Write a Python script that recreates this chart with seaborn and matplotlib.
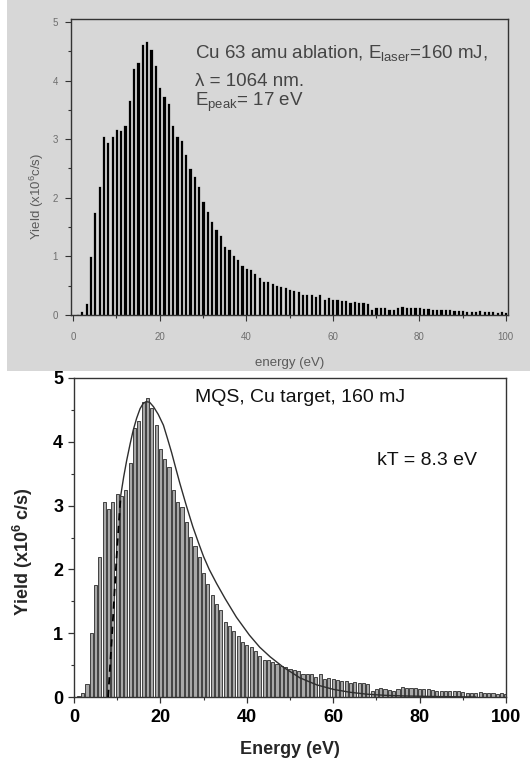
import matplotlib
matplotlib.use("Agg")
import matplotlib.pyplot as plt
from matplotlib.patches import Rectangle
from matplotlib.ticker import MultipleLocator
import seaborn as sns

# ion energy bins (eV) and measured yield (x10^6 c/s)
energy = list(range(1, 101))
yield_mcs = [0.01, 0.07, 0.20, 1.00, 1.76, 2.20, 3.05, 2.95, 3.05, 3.18,
             3.15, 3.25, 3.66, 4.22, 4.32, 4.63, 4.68, 4.53, 4.26, 3.89,
             3.73, 3.61, 3.24, 3.06, 2.98, 2.74, 2.51, 2.37, 2.20, 1.94,
             1.77, 1.60, 1.46, 1.37, 1.18, 1.12, 1.03, 0.95, 0.86, 0.81,
             0.79, 0.72, 0.65, 0.58, 0.58, 0.55, 0.52, 0.49, 0.47, 0.44,
             0.42, 0.41, 0.36, 0.36, 0.36, 0.32, 0.36, 0.28, 0.30, 0.28,
             0.27, 0.25, 0.25, 0.22, 0.24, 0.22, 0.22, 0.20, 0.10, 0.13,
             0.14, 0.13, 0.11, 0.10, 0.13, 0.15, 0.14, 0.14, 0.14, 0.13,
             0.12, 0.12, 0.11, 0.10, 0.10, 0.10, 0.10, 0.09, 0.09, 0.08,
             0.07, 0.07, 0.07, 0.08, 0.07, 0.07, 0.07, 0.05, 0.07, 0.05]

# Maxwell-Boltzmann fit (kT = 8.3 eV)
fit_dash_e = [7.9, 8.6, 9.3, 10.0, 10.8]
fit_dash_y = [0.0, 0.75, 1.55, 2.35, 3.15]
fit_e = [10.8, 11.5, 12.2, 13.0, 13.7, 14.5, 15.3, 16.0, 16.7, 17.5,
         18.4, 19.5, 20.7, 21.6, 22.6, 23.5, 24.5, 26.0, 27.5, 28.8,
         30.0, 31.3, 33.0, 35.0, 37.6, 40.6, 43.0, 45.4, 48.4, 52.3,
         56.2, 60.0, 63.9, 67.7, 72.0, 76.6, 85.0, 93.0]
fit_y = [3.15, 3.45, 3.71, 3.97, 4.18, 4.37, 4.52, 4.60, 4.63, 4.62,
         4.55, 4.43, 4.26, 4.06, 3.83, 3.60, 3.35, 3.00, 2.67, 2.42,
         2.20, 2.00, 1.78, 1.54, 1.25, 0.97, 0.78, 0.63, 0.47, 0.30,
         0.19, 0.12, 0.074, 0.045, 0.026, 0.016, 0.006, 0.0]

sns.set_style("ticks")
plt.rcParams['font.family'] = ['Liberation Sans', 'DejaVu Sans']
plt.rcParams['mathtext.fontset'] = 'custom'
plt.rcParams['mathtext.rm'] = 'Liberation Sans'
plt.rcParams['mathtext.it'] = 'Liberation Sans:italic'
plt.rcParams['mathtext.bf'] = 'Liberation Sans:bold'

W, H = 530, 762
fig = plt.figure(figsize=(W / 100, H / 100), dpi=100)
grey = '#d7d7d7'
fig.add_artist(Rectangle((7 / W, 1 - 371 / H), 523 / W, 371 / H,
                         transform=fig.transFigure, facecolor=grey,
                         edgecolor='none', zorder=-5))

# ---- top panel ----
ax1 = fig.add_axes([71 / W, 1 - 315 / H, 437 / W, 296 / H])
ax1.set_facecolor(grey)
sns.barplot(x=energy, y=yield_mcs, native_scale=True, width=0.74,
            color='black', saturation=1, edgecolor='white', linewidth=0.4,
            errorbar=None, ax=ax1)
ax1.set_xlim(-0.5, 100.5)
ax1.set_ylim(0, 5.05)
ax1.xaxis.set_major_locator(MultipleLocator(20))
ax1.xaxis.set_minor_locator(MultipleLocator(10))
ax1.yaxis.set_major_locator(MultipleLocator(1))
ax1.yaxis.set_minor_locator(MultipleLocator(0.5))
for s in ax1.spines.values():
    s.set_color('#333333')
    s.set_linewidth(1.0)
ax1.tick_params(which='major', direction='out', length=4.3, width=0.8,
                color='#333333', labelsize=7, labelcolor='#6e6e6e')
ax1.tick_params(axis='x', which='major', pad=8)
ax1.tick_params(axis='y', which='major', pad=5)
ax1.tick_params(which='minor', direction='out', length=2.5, width=0.8,
                color='#333333')
ax1.set_xlabel('energy (eV)', fontsize=9.5, color='#5a5a5a')
ax1.set_ylabel('Yield (x10$^6$c/s)', fontsize=9.5, color='#5a5a5a')
ax1.xaxis.set_label_coords(0.501, -0.162)
ax1.xaxis.label.set_va('center')
ax1.yaxis.set_label_coords(-0.078, 0.40)
ax1.yaxis.label.set_va('center')
txt = dict(transform=ax1.transAxes, fontsize=13.5, color='#444444',
           va='baseline', ha='left')
ax1.text(0.284, 0.868, 'Cu 63 amu ablation, E$_{\\rm laser}$=160 mJ,', **txt)
ax1.text(0.284, 0.774, '\u03bb = 1064 nm.', **txt)
ax1.text(0.284, 0.706, 'E$_{\\rm peak}$= 17 eV', **txt)

# ---- bottom panel ----
ax2 = fig.add_axes([74 / W, 1 - 697 / H, 432 / W, 319 / H])
ax2.set_facecolor('white')
sns.barplot(x=energy, y=yield_mcs, native_scale=True, width=0.72,
            color='#a8a8a8', saturation=1, edgecolor='#1a1a1a',
            linewidth=0.55, errorbar=None, ax=ax2)
sns.lineplot(x=fit_e, y=fit_y, color='#2e2e2e', linewidth=1.0, ax=ax2,
             zorder=5)
sns.lineplot(x=fit_dash_e, y=fit_dash_y, color='black', linewidth=1.3,
             linestyle=(0, (4, 3)), ax=ax2, zorder=5)
ax2.set_xlim(0, 100)
ax2.set_ylim(0, 5)
ax2.xaxis.set_major_locator(MultipleLocator(20))
ax2.xaxis.set_minor_locator(MultipleLocator(10))
ax2.yaxis.set_major_locator(MultipleLocator(1))
ax2.yaxis.set_minor_locator(MultipleLocator(0.5))
for s in ax2.spines.values():
    s.set_color('#333333')
    s.set_linewidth(1.0)
ax2.tick_params(which='major', direction='out', length=4.3, width=0.9,
                color='#333333', labelsize=13, labelcolor='black')
ax2.tick_params(axis='x', which='major', pad=4.5)
ax2.tick_params(axis='y', which='major', pad=3.5)
ax2.tick_params(which='minor', direction='out', length=2.5, width=0.8,
                color='#333333')
for lab in ax2.get_xticklabels() + ax2.get_yticklabels():
    lab.set_fontweight('bold')
ax2.set_xlabel('Energy (eV)', fontsize=13, fontweight='bold')
ax2.set_ylabel('Yield (x10$^{\\mathbf{6}}$ c/s)', fontsize=13,
               fontweight='bold')
ax2.xaxis.set_label_coords(0.5, -0.166)
ax2.xaxis.label.set_va('center')
ax2.yaxis.set_label_coords(-0.118, 0.457)
ax2.yaxis.label.set_va('center')
ax2.text(0.523, 0.925, 'MQS, Cu target, 160 mJ', transform=ax2.transAxes,
         fontsize=14, ha='center', va='baseline', color='#111111')
ax2.text(0.701, 0.727, 'kT = 8.3 eV', transform=ax2.transAxes,
         fontsize=14, ha='left', va='baseline', color='#111111')

fig.savefig('out.png', dpi=100)
